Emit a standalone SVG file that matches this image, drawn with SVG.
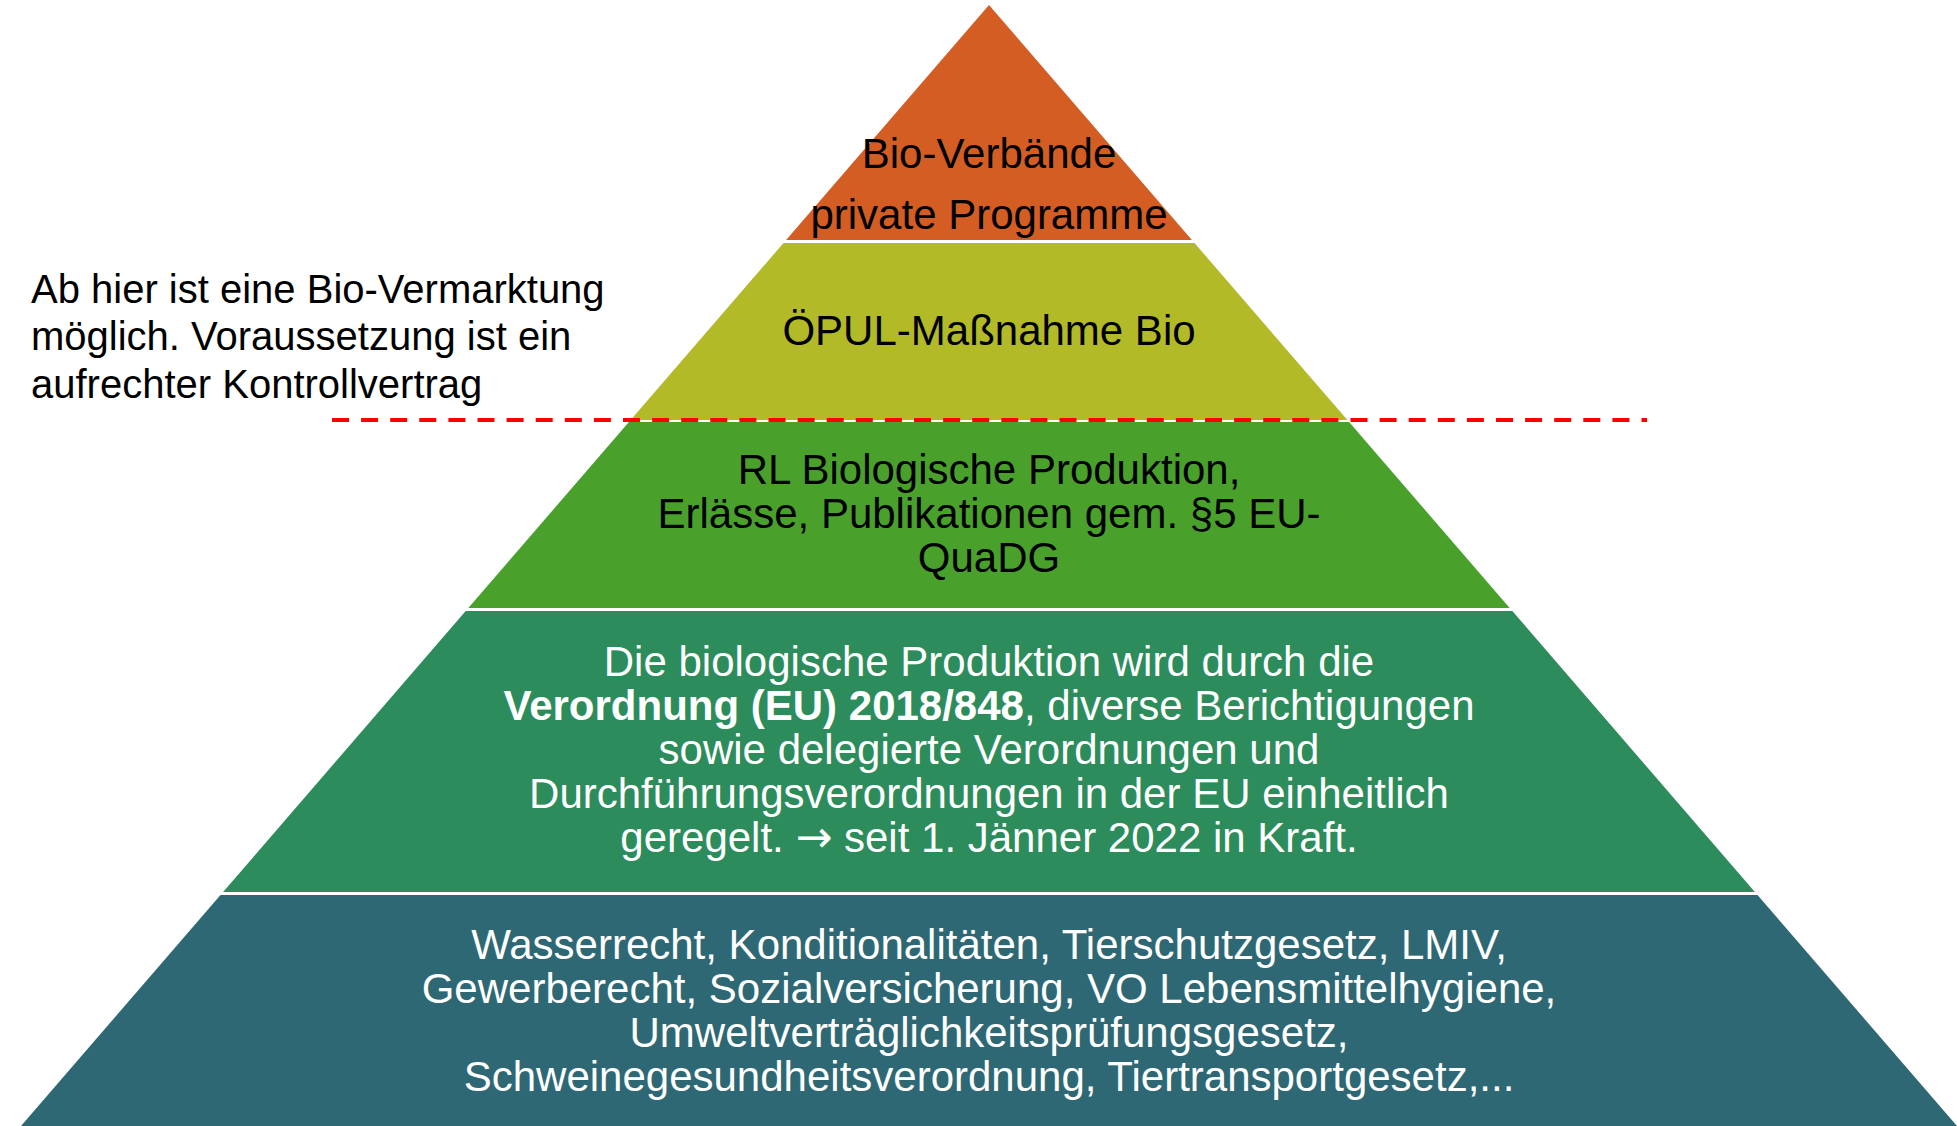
<svg xmlns="http://www.w3.org/2000/svg" width="1957" height="1126" viewBox="0 0 1957 1126">
<style>
  text { font-family: "Liberation Sans", Arial, sans-serif; font-size: 42px; text-anchor: middle; }
  .dark { fill: #000000; }
  .light { fill: #FFFFFF; }
  .b { font-weight: bold; }
  .arrow { font-family: "DejaVu Sans", sans-serif; font-size: 44px; }
  .note { font-size: 40px; text-anchor: start; fill: #000000; }
  .sep { stroke: #FF0000; stroke-width: 4; stroke-dasharray: 17 12.1; fill: none; }
</style>
<rect width="1957" height="1126" fill="#FFFFFF"/>
<g id="level1">
  <polygon points="989,5 1191.9,240 786.1,240" fill="#D35D22"/>
  <text class="dark" x="989" y="168">Bio-Verbände</text>
  <text class="dark" x="989" y="229">private Programme</text>
</g>
<g id="level2">
  <polygon points="783.5,243 1194.5,243 1347.4,420 630.6,420" fill="#B3BA27"/>
  <text class="dark" x="989" y="345">ÖPUL-Maßnahme Bio</text>
</g>
<g id="level3">
  <polygon points="628.9,422 1349.1,422 1509.7,608 468.3,608" fill="#49A12C"/>
  <text class="dark" x="989" y="484">RL Biologische Produktion,</text>
  <text class="dark" x="989" y="528">Erlässe, Publikationen gem. §5 EU-</text>
  <text class="dark" x="989" y="572">QuaDG</text>
</g>
<g id="level4">
  <polygon points="465.7,611 1512.3,611 1754.9,892 223.1,892" fill="#2D8C5B"/>
  <text class="light" x="989" y="676">Die biologische Produktion wird durch die</text>
  <text class="light" x="989" y="720"><tspan class="b">Verordnung (EU) 2018/848</tspan>, diverse Berichtigungen</text>
  <text class="light" x="989" y="764">sowie delegierte Verordnungen und</text>
  <text class="light" x="989" y="808">Durchführungsverordnungen in der EU einheitlich</text>
  <text class="light" x="989" y="852">geregelt. <tspan class="arrow">→</tspan> seit 1. Jänner 2022 in Kraft.</text>
</g>
<g id="level5">
  <polygon points="220.5,895 1757.5,895 1957,1126 21,1126" fill="#2E6874"/>
  <text class="light" x="989" y="959">Wasserrecht, Konditionalitäten, Tierschutzgesetz, LMIV,</text>
  <text class="light" x="989" y="1003">Gewerberecht, Sozialversicherung, VO Lebensmittelhygiene,</text>
  <text class="light" x="989" y="1047">Umweltverträglichkeitsprüfungsgesetz,</text>
  <text class="light" x="989" y="1091">Schweinegesundheitsverordnung, Tiertransportgesetz,...</text>
</g>
<g id="note">
  <text class="note" x="31" y="303">Ab hier ist eine Bio-Vermarktung</text>
  <text class="note" x="31" y="350">möglich. Voraussetzung ist ein</text>
  <text class="note" x="31" y="398">aufrechter Kontrollvertrag</text>
</g>
<g id="connectors">
  <line class="sep" x1="332" y1="420" x2="1647" y2="420"/>
</g>
</svg>
